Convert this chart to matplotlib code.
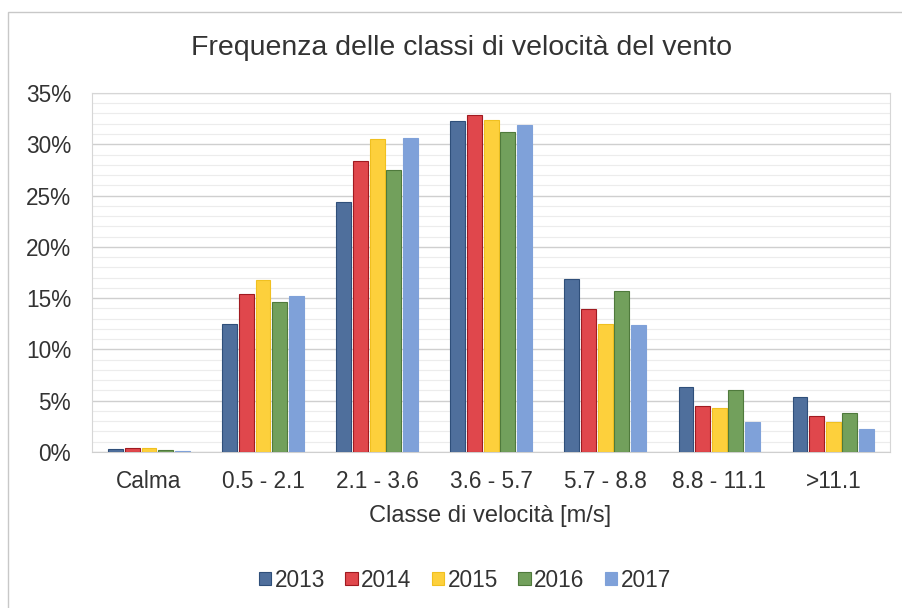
import matplotlib.pyplot as plt
import matplotlib.ticker as tck
from matplotlib.patches import Rectangle
import numpy as np

plt.rcParams['font.family'] = ['Liberation Sans', 'DejaVu Sans']

# Wind speed classes and yearly frequencies (%)
classes = ['Calma', '0.5 - 2.1', '2.1 - 3.6', '3.6 - 5.7', '5.7 - 8.8', '8.8 - 11.1', '>11.1']
years = ['2013', '2014', '2015', '2016', '2017']
f2013 = [0.3, 12.5, 24.4, 32.3, 16.9, 6.3, 5.4]
f2014 = [0.4, 15.4, 28.4, 32.9, 13.9, 4.5, 3.5]
f2015 = [0.4, 16.8, 30.5, 32.4, 12.5, 4.3, 2.9]
f2016 = [0.2, 14.6, 27.5, 31.2, 15.7, 6.0, 3.8]
f2017 = [0.1, 15.2, 30.6, 31.9, 12.4, 2.9, 2.2]
series = [f2013, f2014, f2015, f2016, f2017]

colors = ['#4f6f9c', '#e0474c', '#fdd03c', '#72a05c', '#7fa1d9']
edges = ['#2f4f7a', '#a01a20', '#f0c020', '#4f7a3c', '#7fa1d9']

fig = plt.figure(figsize=(9.02, 6.08), dpi=100)
fig.patches.append(Rectangle((0.009, -0.05), 1.1, 1.03, transform=fig.transFigure,
                             fill=False, edgecolor='#c8c8c8', linewidth=1))
ax = fig.add_axes([0.102, 0.2566, 0.885, 0.5905])

x = np.arange(len(classes))
pitch = 0.146
width = 0.13
for i, (vals, c, e, lab) in enumerate(zip(series, colors, edges, years)):
    ax.bar(x + (i - 2) * pitch, vals, width, color=c, edgecolor=e,
           linewidth=0.8, label=lab, zorder=3)

ax.set_xlim(-0.5, len(classes) - 0.5)
ax.set_ylim(0, 35)
ax.yaxis.set_major_locator(tck.MultipleLocator(5))
ax.yaxis.set_minor_locator(tck.MultipleLocator(1))
ax.yaxis.set_major_formatter(tck.FuncFormatter(lambda v, p: f'{v:.0f}%'))
ax.grid(which='major', axis='y', color='#cfcfcf', linewidth=1.0, zorder=0)
ax.grid(which='minor', axis='y', color='#ececec', linewidth=0.8, zorder=0)
ax.set_xticks(x)
ax.set_xticklabels(classes)
ax.tick_params(axis='both', which='both', length=0, labelsize=16.3, colors='#333333')
ax.tick_params(axis='x', pad=13)
ax.tick_params(axis='y', pad=15)
for s in ax.spines.values():
    s.set_color('#d6d6d6')
ax.spines['bottom'].set_color('#cfcfcf')

ax.set_xlabel('Classe di velocità [m/s]', fontsize=17, color='#333333')
ax.xaxis.set_label_coords(0.499, -0.148)
fig.text(0.512, 0.921, 'Frequenza delle classi di velocità del vento', ha='center',
         va='center', fontsize=20.5, color='#333333')

ax.legend(loc='center', bbox_to_anchor=(0.467, -0.357), ncol=5, frameon=False,
          fontsize=16.3, handlelength=0.55, handleheight=0.55, handletextpad=0.15,
          columnspacing=0.9, labelcolor='#333333')

fig.savefig('out.png', dpi=100)
